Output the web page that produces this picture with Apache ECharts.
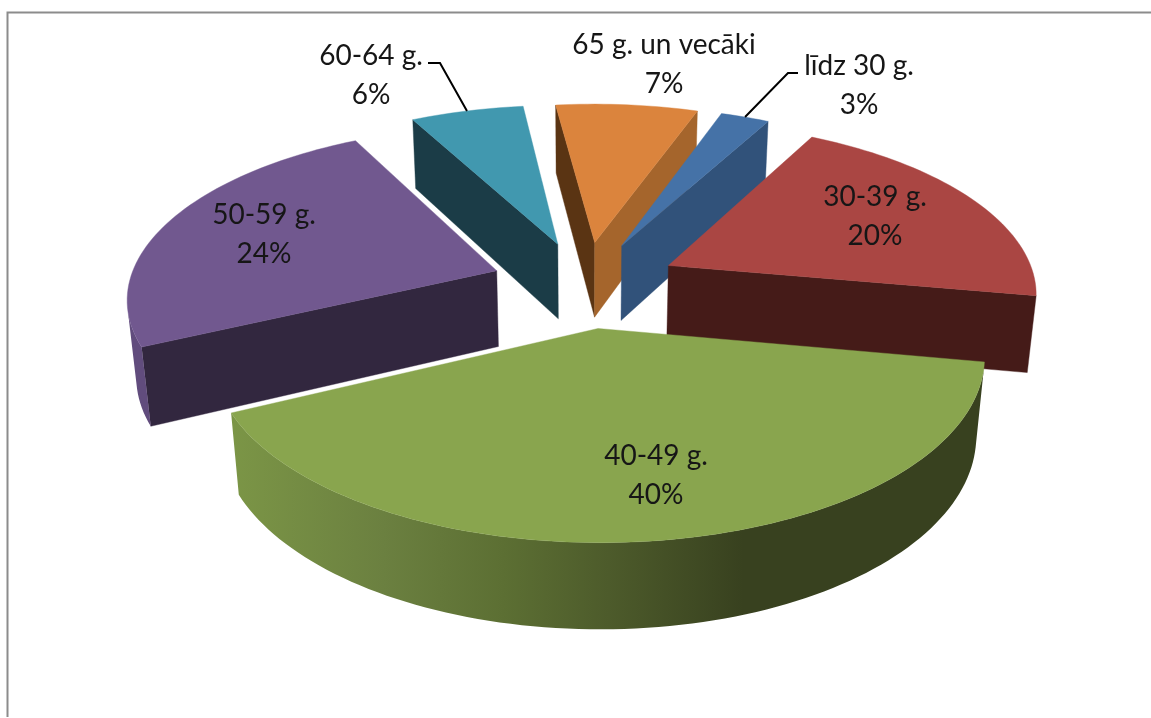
<!DOCTYPE html>
<html><head><meta charset="utf-8">
<style>html,body{margin:0;padding:0;background:#fff}#c{width:1151px;height:718px}</style>
<script src="https://cdn.jsdelivr.net/npm/echarts@6/dist/echarts.min.js"></script>
</head><body><div id="c"></div>
<script>
// ---- data (slice sizes estimated; labels show them rounded) ----
const categories = ['līdz 30 g.', '30-39 g.', '40-49 g.', '50-59 g.', '60-64 g.', '65 g. un vecāki'];
const values = [2.5, 20.0, 40.0, 24.4, 5.8, 7.3];

// ---- styles ----
const topColors   = ['#4572a7', '#aa4643', '#89a54e', '#71588f', '#4198af', '#db843d'];
const startColors = ['#31527a', '#451b18', '#38411f', '#32273f', '#1b3c47', '#5a3413'];
const endColors   = ['#31527a', '#451b18', '#38411f', '#32273f', '#1b3c47', '#a5652c'];
const rimColors   = ['#31527a', '#451b18', null, '#614c7d', '#1b3c47', '#a5652c'];

// ---- layout: label anchors and leader elbows, in page pixels ----
const labelAnchors = [[859, 85], [875, 216], [656, 475], [264, 234], [371, 75], [664, 64]];
const leaderElbows = [[[798, 73], [788, 73]], null, null, null, [[428, 63], [440, 63]], null];

// ---- projection parameters of the tilted pie ----
const cx = 585, cy = 284, R = 368, EXPLODE = 94;
const TILT = 0.46, PERSP = 0.00039, DEPTH = 78, DEPTH_PERSP = 0.02, ROTATE = 19.3;

const total = values.reduce((a, b) => a + b, 0);
const rad = d => d * Math.PI / 180;

function project(X, Y, Z) {
  const w = 1 + PERSP * Y + DEPTH_PERSP * Z;
  return [cx + X / w, cy + (-TILT * Y + DEPTH * Z) / w];
}
function area(p) {
  let s = 0;
  for (let i = 0; i < p.length; i++) {
    const q = p[(i + 1) % p.length];
    s += p[i][0] * q[1] - q[0] * p[i][1];
  }
  return s;
}

function sliceAngles(i) {
  let before = 0;
  for (let k = 0; k < i; k++) before += values[k];
  const a0 = ROTATE + before / total * 360;
  const a1 = a0 + values[i] / total * 360;
  return [a0, a1, (a0 + a1) / 2];
}

// paint order: far slices first
const paintRank = values.map((_, i) => i)
  .sort((p, q) => Math.cos(rad(sliceAngles(q)[2])) - Math.cos(rad(sliceAngles(p)[2])))
  .reduce((m, idx, r) => { m[idx] = r; return m; }, {});

function renderItem(params, api) {
  const i = params.dataIndex;
  const value = api.value(0);
  const [a0, a1, mid] = sliceAngles(i);
  const ox = EXPLODE * Math.sin(rad(mid)), oy = EXPLODE * Math.cos(rad(mid));
  const rimPt = (deg, z) => project(ox + R * Math.sin(rad(deg)), oy + R * Math.cos(rad(deg)), z);
  const apex = z => project(ox, oy, z);

  const steps = Math.max(4, Math.ceil((a1 - a0) / 1.5));
  const angs = [];
  for (let s = 0; s <= steps; s++) angs.push(a0 + (a1 - a0) * s / steps);

  const children = [];
  const base = 10 * (paintRank[i] + 1);
  const poly = (pts, fill, z2) => children.push({
    type: 'polygon', z2: z2, shape: { points: pts },
    style: { fill: fill, stroke: fill, lineWidth: 0.4 }
  });

  // radial faces
  const startFace = [apex(0), rimPt(a0, 0), rimPt(a0, 1), apex(1)];
  if (area(startFace) < 0) poly(startFace, startColors[i], base);
  const endFace = [apex(0), rimPt(a1, 0), rimPt(a1, 1), apex(1)];
  if (area(endFace) > 0) poly(endFace, endColors[i], base + 1);

  // outer wall: only the part that faces the viewer
  const vis = [];
  for (let s = 0; s < steps; s++) {
    const q = [rimPt(angs[s], 0), rimPt(angs[s + 1], 0), rimPt(angs[s + 1], 1), rimPt(angs[s], 1)];
    if (area(q) < 0) { if (!vis.length) vis.push(angs[s]); vis.push(angs[s + 1]); }
  }
  if (vis.length) {
    const wall = vis.map(d => rimPt(d, 0)).concat(vis.slice().reverse().map(d => rimPt(d, 1)));
    const fill = rimColors[i] || new echarts.graphic.LinearGradient(234, 0, 983, 0, [
      { offset: 0, color: '#7b9546' }, { offset: 0.2, color: '#6b8040' },
      { offset: 0.36, color: '#5c6f33' }, { offset: 0.5, color: '#4d5b2b' },
      { offset: 0.68, color: '#38411f' }, { offset: 1, color: '#38411f' }
    ], true);
    children.push({
      type: 'polygon', z2: base + 2, shape: { points: wall },
      style: { fill: fill }
    });
  }

  // top face
  poly([apex(0)].concat(angs.map(d => rimPt(d, 0))), topColors[i], base + 3);

  // leader line, ending on the rim at the slice's middle
  const elbow = leaderElbows[i];
  if (elbow) {
    children.push({
      type: 'polyline', z2: 200,
      shape: { points: elbow.concat([rimPt(mid, 0)]) },
      style: { fill: null, stroke: '#000', lineWidth: 2 }
    });
  }

  // data label
  const anchor = labelAnchors[i];
  children.push({
    type: 'text', z2: 300,
    style: {
      text: categories[i] + '\n' + Math.round(value) + '%',
      x: anchor[0], y: anchor[1], align: 'center', verticalAlign: 'middle',
      fill: '#161616', font: '28px Lato', lineHeight: 39
    }
  });
  return { type: 'group', children: children };
}

const chart = echarts.init(document.getElementById('c'), null, { renderer: 'canvas' });
chart.setOption({
  animation: false,
  backgroundColor: '#ffffff',
  graphic: [{
    type: 'polyline', silent: true,
    shape: { points: [[7.5, 717], [7.5, 12.5], [1151, 12.5]] },
    style: { fill: null, stroke: '#8c8c8c', lineWidth: 2 }
  }],
  series: [{
    type: 'custom',
    coordinateSystem: 'none',
    silent: true,
    renderItem: renderItem,
    dimensions: ['share'],
    encode: { value: 0 },
    data: values.map((v, i) => ({ name: categories[i], value: [v] }))
  }]
});
</script></body></html>
